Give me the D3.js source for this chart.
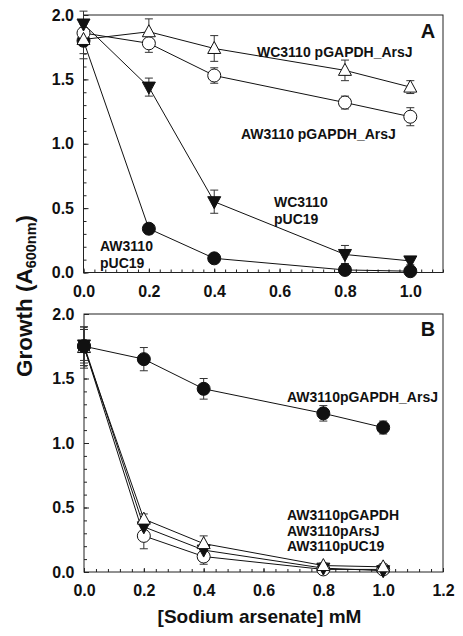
<!DOCTYPE html>
<html>
<head>
<meta charset="utf-8">
<script src="https://cdn.jsdelivr.net/npm/d3@7"></script>
<style>
  html, body { margin: 0; padding: 0; background: #fff; }
  svg { display: block; }
  text { font-family: "Liberation Sans", Arial, Helvetica, sans-serif; font-weight: bold; fill: #111; }
</style>
</head>
<body>
<script>
// ---------- DATA ----------
const concA = [0, 0.2, 0.4, 0.8, 1.0];
const wcArsJ_A = [1.81, 1.87, 1.74, 1.57, 1.44];
const wcArsJ_A_err = [0.15, 0.10, 0.10, 0.08, 0.05];
const awArsJ_A = [1.86, 1.78, 1.53, 1.32, 1.21];
const awArsJ_A_err = [0.07, 0.07, 0.06, 0.05, 0.07];
const wcPUC_A = [1.93, 1.44, 0.55, 0.14, 0.09];
const wcPUC_A_err = [0.10, 0.07, 0.09, 0.07, 0.03];
const awPUC_A = [1.80, 0.34, 0.11, 0.02, 0.01];
const awPUC_A_err = [0.10, 0.04, 0.02, 0.01, 0.01];

const concB = [0, 0.2, 0.4, 0.8, 1.0];
const gapdhArsJ_B = [1.75, 1.65, 1.42, 1.23, 1.12];
const gapdhArsJ_B_err = [0.15, 0.09, 0.08, 0.06, 0.05];
const gapdh_B = [1.74, 0.41, 0.22, 0.05, 0.04];
const gapdh_B_err = [0.16, 0.04, 0.06, 0.02, 0.02];
const arsJ_B = [1.76, 0.35, 0.17, 0.03, 0.01];
const arsJ_B_err = [0.12, 0.03, 0.03, 0.01, 0.01];
const puc_B = [1.75, 0.28, 0.12, 0.02, 0.02];
const puc_B_err = [0.13, 0.10, 0.06, 0.01, 0.01];

const xTicksA = [0, 0.2, 0.4, 0.6, 0.8, 1.0];
const xTicksB = [0, 0.2, 0.4, 0.6, 0.8, 1.0, 1.2];
const yTicks = [0, 0.5, 1.0, 1.5, 2.0];

// ---------- LAYOUT ----------
const W = 463, H = 636;
const svg = d3.select("body").append("svg").attr("width", W).attr("height", H);
svg.append("rect").attr("width", W).attr("height", H).attr("fill", "#fff");

function trianglePath(dir) {
  const h = 6.5;
  if (dir > 0) return `M0,${-7} L${h},${5} L${-h},${5} Z`;
  return `M0,${7} L${h},${-5} L${-h},${-5} Z`;
}

function drawPanel(cfg) {
  const g = svg.append("g");
  const x = d3.scaleLinear().domain(cfg.xDomain).range([cfg.left, cfg.right]);
  const y = d3.scaleLinear().domain([0, 2.0]).range([cfg.bottom, cfg.top]);

  g.append("g").attr("transform", `translate(0,${cfg.bottom})`)
    .call(d3.axisBottom(x).tickValues(cfg.xMinor).tickSizeInner(-3).tickSizeOuter(0).tickFormat(""))
    .call(a => a.select(".domain").remove())
    .call(a => a.selectAll("line").attr("stroke", "#222"));
  g.append("g").attr("transform", `translate(0,${cfg.bottom})`)
    .call(d3.axisBottom(x).tickValues(cfg.xTicks).tickSizeInner(-4).tickSizeOuter(0).tickPadding(13).tickFormat(d3.format(".1f")))
    .call(a => a.select(".domain").remove())
    .call(a => a.selectAll("line").attr("stroke", "#222"))
    .call(a => a.selectAll("text").attr("font-size", 16).attr("font-family", null).style("fill", "#111"));
  g.append("g").attr("transform", `translate(${cfg.left},0)`)
    .call(d3.axisLeft(y).tickValues(d3.range(0, 2.0001, 0.1)).tickSizeInner(-3).tickSizeOuter(0).tickFormat(""))
    .call(a => a.select(".domain").remove())
    .call(a => a.selectAll("line").attr("stroke", "#222"));
  g.append("g").attr("transform", `translate(${cfg.left},0)`)
    .call(d3.axisLeft(y).tickValues(yTicks).tickSizeInner(-5).tickSizeOuter(0).tickPadding(9.5).tickFormat(d3.format(".1f")))
    .call(a => a.select(".domain").remove())
    .call(a => a.selectAll("line").attr("stroke", "#222"))
    .call(a => a.selectAll("text").attr("font-size", 16).attr("font-family", null).style("fill", "#111"));

  g.append("rect")
    .attr("x", cfg.left).attr("y", cfg.top)
    .attr("width", cfg.right - cfg.left).attr("height", cfg.bottom - cfg.top)
    .attr("fill", "none").attr("stroke", "#222").attr("stroke-width", 1);

  cfg.series.forEach(s => {
    const pts = s.values.map((v, i) => ({ x: cfg.conc[i], y: v, e: s.err[i] }));
    const sg = g.append("g");
    sg.append("path").datum(pts)
      .attr("d", d3.line().x(d => x(d.x)).y(d => y(d.y)))
      .attr("fill", "none").attr("stroke", "#111").attr("stroke-width", 1);
    const eb = sg.selectAll(".eb").data(pts).join("g");
    eb.append("line")
      .attr("x1", d => x(d.x)).attr("x2", d => x(d.x))
      .attr("y1", d => y(d.y - d.e)).attr("y2", d => y(d.y + d.e))
      .attr("stroke", "#333").attr("stroke-width", 1);
    [-1, 1].forEach(sgn => {
      eb.append("line")
        .attr("x1", d => x(d.x) - 4).attr("x2", d => x(d.x) + 4)
        .attr("y1", d => y(d.y + sgn * d.e)).attr("y2", d => y(d.y + sgn * d.e))
        .attr("stroke", "#333").attr("stroke-width", 1);
    });
  });
  cfg.series.forEach(s => {
    const pts = s.values.map((v, i) => ({ x: cfg.conc[i], y: v }));
    const mg = g.append("g");
    if (s.shape === "circle") {
      mg.selectAll("circle").data(pts).join("circle")
        .attr("cx", d => x(d.x)).attr("cy", d => y(d.y)).attr("r", 6.5)
        .attr("fill", s.fill).attr("stroke", "#111").attr("stroke-width", 1);
    } else {
      mg.selectAll("path").data(pts).join("path")
        .attr("transform", d => `translate(${x(d.x)},${y(d.y)})`)
        .attr("d", trianglePath(s.shape === "up" ? 1 : -1))
        .attr("fill", s.fill).attr("stroke", "#111").attr("stroke-width", 1);
    }
  });

  cfg.labels.forEach(l => {
    g.append("text").attr("x", l.x).attr("y", l.y).attr("font-size", l.size || 14).text(l.text);
  });
  g.append("text").attr("x", cfg.letter.x).attr("y", cfg.letter.y)
    .attr("font-size", 20).attr("text-anchor", "middle").text(cfg.letter.text);
}

drawPanel({
  left: 83.5, right: 443, top: 15, bottom: 272.5,
  xDomain: [0, 1.1], xTicks: xTicksA,
  xMinor: d3.range(0, 1.1001, 0.2 / 6),
  conc: concA,
  series: [
    { values: awPUC_A, err: awPUC_A_err, shape: "circle", fill: "#111" },
    { values: awArsJ_A, err: awArsJ_A_err, shape: "circle", fill: "#fff" },
    { values: wcArsJ_A, err: wcArsJ_A_err, shape: "up", fill: "#fff" },
    { values: wcPUC_A, err: wcPUC_A_err, shape: "down", fill: "#111" }
  ],
  labels: [
    { x: 257, y: 57, text: "WC3110 pGAPDH_ArsJ" },
    { x: 241, y: 139, text: "AW3110 pGAPDH_ArsJ" },
    { x: 274, y: 207, text: "WC3110" },
    { x: 274, y: 224, text: "pUC19" },
    { x: 100, y: 251, text: "AW3110" },
    { x: 100, y: 267.5, text: "pUC19" }
  ],
  letter: { x: 428, y: 38, text: "A" }
});

drawPanel({
  left: 84, right: 443, top: 314, bottom: 572,
  xDomain: [0, 1.2], xTicks: xTicksB,
  xMinor: d3.range(0, 1.2001, 0.04),
  conc: concB,
  series: [
    { values: puc_B, err: puc_B_err, shape: "circle", fill: "#fff" },
    { values: arsJ_B, err: arsJ_B_err, shape: "down", fill: "#111" },
    { values: gapdh_B, err: gapdh_B_err, shape: "up", fill: "#fff" },
    { values: gapdhArsJ_B, err: gapdhArsJ_B_err, shape: "circle", fill: "#111" }
  ],
  labels: [
    { x: 287, y: 402, text: "AW3110pGAPDH_ArsJ" },
    { x: 287, y: 520, text: "AW3110pGAPDH" },
    { x: 287, y: 535.5, text: "AW3110pArsJ" },
    { x: 287, y: 551, text: "AW3110pUC19" }
  ],
  letter: { x: 428, y: 336, text: "B" }
});

svg.append("text").attr("x", 259.5).attr("y", 623).attr("text-anchor", "middle")
  .attr("font-size", 19).text("[Sodium arsenate] mM");

const yt = svg.append("text").attr("transform", "translate(32,296) rotate(-90)")
  .attr("text-anchor", "middle").attr("font-size", 22.5);
yt.append("tspan").text("Growth (A");
yt.append("tspan").attr("font-size", 14.5).attr("dy", 4).text("600nm");
yt.append("tspan").attr("dy", -4).text(")");
</script>
</body>
</html>
